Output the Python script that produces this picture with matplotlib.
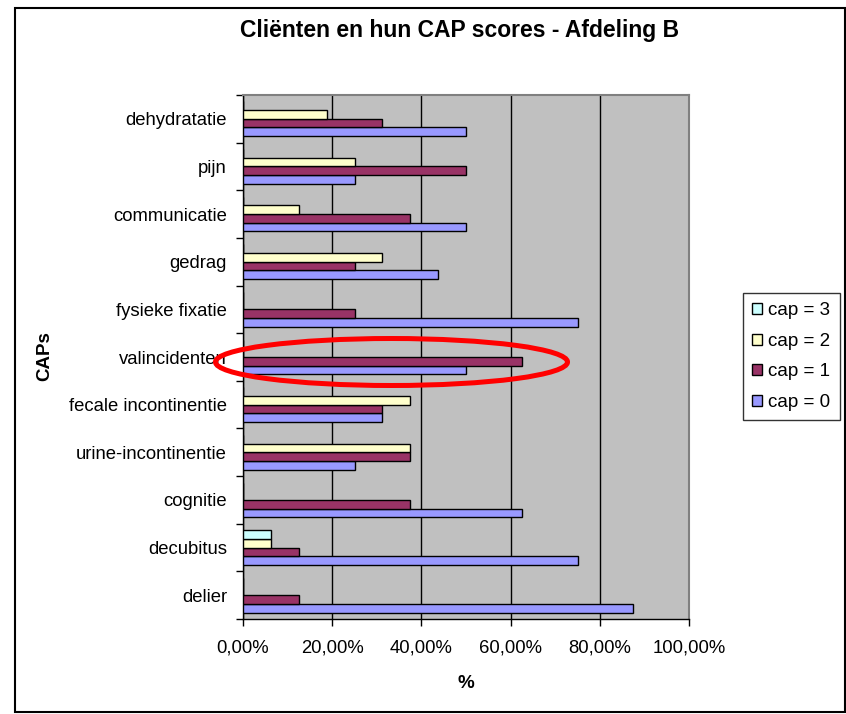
import matplotlib
matplotlib.use("Agg")
import matplotlib.pyplot as plt
from matplotlib.patches import Rectangle, Ellipse, Patch
from matplotlib.ticker import FuncFormatter, MultipleLocator
import numpy as np

plt.rcParams['font.family'] = ['Liberation Sans', 'DejaVu Sans']

# CAP categories, bottom to top
categories = ["delier", "decubitus", "cognitie", "urine-incontinentie",
              "fecale incontinentie", "valincidenten", "fysieke fixatie",
              "gedrag", "communicatie", "pijn", "dehydratatie"]

# share of clients per CAP score (%)
cap0 = [87.5, 75.0, 62.5, 25.0, 31.25, 50.0, 75.0, 43.75, 50.0, 25.0, 50.0]
cap1 = [12.5, 12.5, 37.5, 37.5, 31.25, 62.5, 25.0, 25.0, 37.5, 50.0, 31.25]
cap2 = [0.0, 6.25, 0.0, 37.5, 37.5, 0.0, 0.0, 31.25, 12.5, 25.0, 18.75]
cap3 = [0.0, 6.25, 0.0, 0.0, 0.0, 0.0, 0.0, 0.0, 0.0, 0.0, 0.0]

series = [cap0, cap1, cap2, cap3]
series_labels = ["cap = 0", "cap = 1", "cap = 2", "cap = 3"]
colors = ["#9999FF", "#993366", "#FFFFCC", "#CCFFFF"]

W, H = 846, 714
fig = plt.figure(figsize=(W / 100, H / 100), dpi=100)
fig.patch.set_facecolor("white")

# outer chart border
fig.add_artist(Rectangle((15 / W, 1 - 712 / H), (845 - 15) / W, (712 - 8) / H,
                         transform=fig.transFigure, fill=False,
                         edgecolor="black", linewidth=1.5))

left, right, top, bottom = 243, 689, 95, 619
ax = fig.add_axes([left / W, 1 - bottom / H, (right - left) / W, (bottom - top) / H])
ax.set_facecolor("#C0C0C0")

n = len(categories)
y = np.arange(n)
h = 1 / 5.5
for k, (vals, lab, col) in enumerate(zip(series, series_labels, colors)):
    ax.barh(y + (k - 1.5) * h, vals, height=h, color=col,
            edgecolor="black", linewidth=1.0, label=lab, zorder=3)

ax.set_xlim(0, 100)
ax.set_ylim(-0.5, n - 0.5)
ax.xaxis.set_major_locator(MultipleLocator(20))
ax.xaxis.set_major_formatter(FuncFormatter(lambda v, p: f"{v:.2f}".replace(".", ",") + "%"))
ax.grid(axis="x", color="black", linewidth=1.0, zorder=1)

ax.set_yticks(y)
ax.set_yticklabels(categories)
ax.set_yticks(np.arange(n + 1) - 0.5, minor=True)
ax.tick_params(axis="y", which="major", length=0, pad=11.5, labelsize=13.3)
ax.tick_params(axis="y", which="minor", length=5, width=1.0, direction="out")
ax.tick_params(axis="x", length=5, width=1.0, direction="out", pad=10, labelsize=13.3)

for s in ["left", "bottom"]:
    ax.spines[s].set_color("black")
    ax.spines[s].set_linewidth(1.0)
for s in ["top", "right"]:
    ax.spines[s].set_color("#808080")
    ax.spines[s].set_linewidth(1.5)

fig.text(460 / W, 1 - 31 / H, "Cliënten en hun CAP scores - Afdeling B",
         ha="center", va="center", fontsize=16.5, fontweight="bold")
fig.text(466 / W, 1 - 683 / H, "%", ha="center", va="center",
         fontsize=13.5, fontweight="bold")
fig.text(45 / W, 1 - 356 / H, "CAPs", ha="center", va="center",
         rotation=90, fontsize=13.5, fontweight="bold")

handles = [Patch(facecolor=c, edgecolor="black", linewidth=1.0) for c in colors][::-1]
leg = fig.legend(handles, series_labels[::-1], loc="upper left",
                 bbox_to_anchor=(743 / W, 1 - 293 / H), borderaxespad=0,
                 fontsize=13.5, frameon=True, fancybox=False, shadow=False,
                 handlelength=0.5, handleheight=0.5, handletextpad=0.35,
                 labelspacing=0.72, borderpad=0.5)
leg.get_frame().set_edgecolor("black")
leg.get_frame().set_linewidth(1.0)

# highlight around the falls category
fig.add_artist(Ellipse((391.5 / 100, (H - 362) / 100), 3.52, 0.47,
                       transform=fig.dpi_scale_trans, fill=False,
                       edgecolor="#FF0000", linewidth=3.6, zorder=10))

fig.savefig("out.png", dpi=100)
